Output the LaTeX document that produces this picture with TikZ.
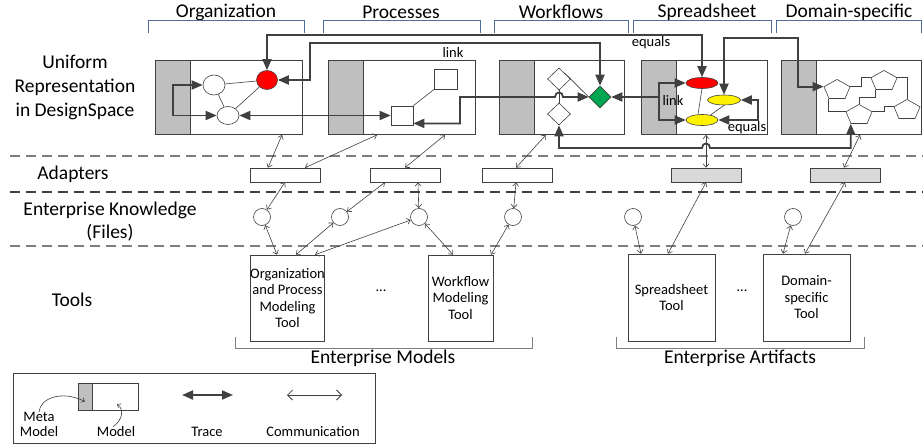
\documentclass[tikz,border=0pt]{standalone}
\usepackage{fontspec}
\setmainfont{Carlito}
\usetikzlibrary{arrows.meta,shapes.geometric,calc}
\definecolor{ln}{HTML}{404040}
\definecolor{metagray}{HTML}{BFBFBF}
\definecolor{adgray}{HTML}{D9D9D9}
\definecolor{hdrblue}{HTML}{4F6D9A}
\definecolor{dashgray}{HTML}{7F7F7F}
\definecolor{grn}{HTML}{00A550}
\newcommand\fbig{\fontsize{19.5}{24}\selectfont}
\newcommand\fsm{\fontsize{14.5}{16.5}\selectfont}
\begin{document}
\begin{tikzpicture}[x=1pt,y=-1pt,
  tr/.style={draw=ln, line width=1.8pt},
  trb/.style={tr, {Triangle[length=11pt,width=9pt]}-{Triangle[length=11pt,width=9pt]}},
  trs/.style={tr, {Triangle[length=11pt,width=9pt]}-},
  comm/.style={draw=ln, line width=0.6pt, {Straight Barb[length=3.5pt,width=6pt]}-{Straight Barb[length=3.5pt,width=6pt]}},
  thinl/.style={draw=ln, line width=0.6pt},
  hdr/.style={font=\fbig, inner sep=0},
  rowlab/.style={font=\fbig, align=center, inner sep=0},
  lbl/.style={font=\fsm, inner sep=0},
  hbr/.style={draw=hdrblue, line width=0.7pt},
  gbr/.style={draw=dashgray, line width=0.7pt},
  dashg/.style={draw=dashgray, line width=1.4pt, dash pattern=on 10pt off 6pt},
  dashk/.style={draw=ln, line width=1.2pt, dash pattern=on 10pt off 6pt},
  box/.style={draw=ln, line width=0.8pt, fill=white, inner sep=0, minimum height=74.5pt},
  meta/.style={draw=ln, line width=0.8pt, fill=metagray, inner sep=0, minimum width=35.5pt, minimum height=74.5pt, anchor=west},
  ell/.style={ellipse, draw=ln, line width=0.6pt, fill=white, inner sep=0},
  sq/.style={rectangle, draw=ln, line width=0.6pt, fill=white, inner sep=0},
  dia/.style={diamond, draw=ln, line width=0.6pt, fill=white, inner sep=0, minimum width=23pt, minimum height=22pt},
  pent/.style={regular polygon, regular polygon sides=5, draw=ln, line width=0.6pt, fill=white, inner sep=0, minimum size=27.4pt, yscale=0.77, transform shape},
  adp/.style={draw=ln, line width=0.6pt, fill=white, minimum width=70pt, minimum height=14pt, inner sep=0},
  kn/.style={circle, draw=ln, line width=0.6pt, fill=white, minimum size=17pt, inner sep=0},
  tool/.style={draw=ln, line width=0.6pt, fill=white, align=center, font=\fsm, inner sep=0}
]
\useasboundingbox (0,0) rectangle (923,444);

% headers
\node[hdr] (hOrg) at (226,12) {Organization};
\node[hdr] (hPro) at (401,12) {Processes};
\node[hdr] (hWf) at (561,12) {Workflows};
\node[hdr] (hSp) at (707,12) {Spreadsheet};
\node[hdr] (hDom) at (849,12) {Domain-specific};
\draw[hbr] (148,33) |- (304,20) -- (304,33);
\draw[hbr] (323,33) |- (480,20) -- (480,33);
\draw[hbr] (494,33) |- (628,20) -- (628,33);
\draw[hbr] (633,33) |- (771,20) -- (771,33);
\draw[hbr] (776,33) |- (921,20) -- (921,33);

% row labels
\node[rowlab] (lUni) at (75,87) {Uniform\\Representation\\in DesignSpace};
\node[rowlab] (lAd) at (73,174) {Adapters};
\node[rowlab, font=\fontsize{19.5}{23}\selectfont] (lKn) at (110,222) {Enterprise Knowledge\\(Files)};
\node[rowlab] (lTo) at (72,300) {Tools};

% separators
\draw[dashg] (10,156) -- (923,156);
\draw[dashk] (10,192) -- (923,192);
\draw[dashg] (10,246) -- (923,246);

% top boxes
\node[box, minimum width=147pt] (b1) at (228.5,97.25) {};
\node[meta] (m1) at (b1.west) {};
\node[box, minimum width=147pt] (b2) at (401.5,97.25) {};
\node[meta] (m2) at (b2.west) {};
\node[box, minimum width=125pt] (b3) at (561.5,97.25) {};
\node[meta] (m3) at (b3.west) {};
\node[box, minimum width=126pt] (b4) at (704,97.25) {};
\node[meta] (m4) at (b4.west) {};
\node[box, minimum width=140pt] (b5) at (851,97.25) {};
\node[meta] (m5) at (b5.west) {};

% organization
\node[ell, minimum width=22pt, minimum height=20pt] (oE1) at (214,85) {};
\node[ell, minimum width=22pt, minimum height=18pt] (oE2) at (228,115.5) {};
\node[ell, fill=red, minimum width=21pt, minimum height=19pt] (oR) at (267,80) {};
\draw[thinl] (oE1) -- (oR);
\draw[thinl] (oE1) -- (oE2);
\draw[thinl] (oR) -- (oE2);

% processes
\node[sq, minimum width=23pt, minimum height=20pt] (pS1) at (446,79) {};
\node[sq, minimum width=22pt, minimum height=19pt] (pS2) at (402,115.5) {};
\draw[thinl] (pS2.north east) -- (pS1.south west);

% workflows
\node[dia] (wD1) at (559,79) {};
\node[dia] (wD2) at (559,114) {};
\node[dia, fill=grn, minimum width=22pt] (wG) at (600,97) {};
\draw[thinl] (wD1.south) -- (wD2.north);
\draw[thinl] (wD1.north east) -- (wG.west);

% spreadsheet
\node[ell, fill=red, minimum width=32pt, minimum height=11pt] (sR) at (702,83) {};
\node[ell, fill=yellow, minimum width=33pt, minimum height=10pt] (sY1) at (724,100) {};
\node[ell, fill=yellow, minimum width=32pt, minimum height=11pt] (sY2) at (702,120) {};
\draw[thinl] (sR.south) -- ([xshift=-4pt]sY2.north);
\draw[thinl] (sY1.south) -- (sY2.30);

% domain-specific
\node[pent] (dP1) at (837,90) {};
\node[pent] (dP2) at (884,81) {};
\node[pent] (dP3) at (859,115) {};
\node[pent] (dP4) at (907,110) {};
\draw[thinl] (dP1.corner 5) -- ++(11,0) |- (dP2.corner 2);
\draw[thinl] (dP1.corner 3) |- (dP3.corner 2);
\draw[thinl] (dP2.corner 3) -- ++(0,8) -| (dP3.corner 1);
\draw[thinl] (dP2.corner 5) -| (dP4.corner 1);
\draw[thinl] (dP3.corner 5) -- ++(12,0) |- (dP4.corner 2);

% trace links
\coordinate (eqC) at (480,35);
\coordinate (lkC) at (310,43);
\coordinate (pkC) at (460,97);
\coordinate (hA1) at (555,97);
\coordinate (hA2) at (563,97);
\coordinate (lkS) at (659,97);
\coordinate (yC) at (760,38);
\coordinate (yC2) at (798,60);
\coordinate (eqL) at (758,110);
\coordinate (olC) at (173,100);
\coordinate (hp1) at (702,148);
\coordinate (hp2) at (710,148);
\draw[trb] (oR.north) |- (eqC) -| (sR.north);
\draw[trb] (oR.east) -| (lkC) -| (wG.north);
\draw[trb] (oE1.west) -| (olC) |- (oE2.west);
\draw[trb] (oE2.east) -- (pS2.west);
\draw[trb] (pS2.-35) -| (pkC) -- (hA1) .. controls +(0,-6) and +(0,-6) .. (hA2) -- (wG.west);
\draw[trs] (wG.east) -- (lkS);
\draw[trb] (sR.west) -| (lkS) |- (sY2.west);
\draw[trb] (sY1.east) -| (eqL) |- (sY2.east);
\draw[trb] (sY1.north) |- (yC) -| (yC2) |- (dP1.corner 2);
\draw[trb] (wD2.south) |- (hp1) .. controls +(0,-6) and +(0,-6) .. (hp2) -| (dP3.corner 3);
\node[lbl] (tEq1) at (651,43) {equals};
\node[lbl] (tLk1) at (453,52) {link};
\node[lbl] (tLk2) at (673,100) {link};
\node[lbl] (tEq2) at (747,128) {equals};

% adapters
\node[adp] (a1) at (285.5,175) {};
\node[adp] (a2) at (405,175) {};
\node[adp] (a3) at (517,175) {};
\node[adp, fill=adgray] (a4) at (706,175) {};
\node[adp, fill=adgray] (a5) at (845,175) {};

% knowledge
\node[kn] (k1) at (262,217) {};
\node[kn] (k2) at (340,217) {};
\node[kn] (k3) at (419,217) {};
\node[kn] (k4) at (513,217) {};
\node[kn] (k5) at (633,217) {};
\node[kn] (k6) at (793,217) {};

% tools
\node[tool, minimum width=67pt, minimum height=86pt] (t1) at (287.5,298) {Organization\\and Process\\Modeling\\Tool};
\node[tool, minimum width=65pt, minimum height=86pt] (t2) at (460.5,298) {Workflow\\Modeling\\Tool};
\node[tool, minimum width=87pt, minimum height=87pt] (t3) at (671.5,297.5) {Spreadsheet\\Tool};
\node[tool, minimum width=87pt, minimum height=87pt] (t4) at (806.5,297.5) {Domain-\\specific\\Tool};
\node[lbl] (dots1) at (381,291) {...};
\node[lbl] (dots2) at (742,291) {...};

% communication: boxes - adapters
\draw[comm] ($(b1.south)+(53.5,0)$) -- ($(a1.north)+(-17.5,0)$);
\draw[comm] ($(b2.south)+(-24.5,0)$) -- ($(a1.north)+(19.5,0)$);
\draw[comm] ($(b2.south)+(43.5,0)$) -- (a2.north);
\draw[comm] ($(b3.south)+(-15.5,0)$) -- ($(a3.north)+(-1,0)$);
\draw[comm] (a4.north |- b4.south) -- (a4.north);
\draw[comm] ($(b5.south)+(9,0)$) -- ($(a5.north)+(-1,0)$);
% adapters - knowledge / tools
\draw[comm] ($(a1.south)+(-0.5,0)$) -- (k1);
\draw[comm] ($(a2.south)+(-20,0)$) -- (k2);
\draw[comm] ($(a2.south)+(13,0)$) -- (k3);
\draw[comm] ($(a3.south)+(-1,0)$) -- (k4);
\draw[comm] (a4.south) -- ($(t3.north)+(-3.5,0)$);
\draw[comm] (a5.south) -- ($(t4.north)+(-1.5,0)$);
% knowledge - tools
\draw[comm] (k1) -- ($(t1.north)+(-10.5,0)$);
\draw[comm] (k2) -- ($(t1.north)+(8.5,0)$);
\draw[comm] (k3) -- ($(t1.north)+(27.5,0)$);
\draw[comm] (k3) -- ($(t2.north)+(-7.5,0)$);
\draw[comm] (k4) -- ($(t2.north)+(30.5,0)$);
\draw[comm] (k5) -- ($(t3.north)+(-30.5,0)$);
\draw[comm] (k6) -- ($(t4.north)+(-23.5,0)$);

% bottom brackets
\draw[gbr] (235,337) |- (532,348) -- (532,337);
\draw[gbr] (616,337) |- (864,348) -- (864,337);
\node[hdr] (lEM) at (383,358) {Enterprise Models};
\node[hdr] (lEA) at (740,358) {Enterprise Artifacts};

% legend
\node[draw=ln, line width=0.8pt, minimum width=362pt, minimum height=70pt, inner sep=0, anchor=north west] (lg) at (13,373) {};
\node[draw=ln, line width=0.8pt, fill=white, minimum width=60pt, minimum height=27pt, inner sep=0] (lgBox) at (108,396.5) {};
\node[draw=ln, line width=0.8pt, fill=metagray, minimum width=14pt, minimum height=27pt, inner sep=0, anchor=west] (lgMeta) at (lgBox.west) {};
\node[lbl, align=center, font=\fontsize{14.5}{15}\selectfont] (lgMetaT) at (39,424.5) {Meta\\Model};
\node[lbl] (lgModelT) at (116,432) {Model};
\draw[thinl, -{Straight Barb[length=3pt,width=5pt]}] (lgMetaT.north) .. controls (40,398) and (62,390) .. ([yshift=-5pt]lgMeta.center);
\draw[thinl, -{Straight Barb[length=3pt,width=5pt]}] ($(lgModelT.north)+(-3,0)$) .. controls (123,420) and (124,409) .. (117,404);
\coordinate (lgT1) at (182,395);
\coordinate (lgT2) at (233,395);
\draw[trb] (lgT1) -- (lgT2);
\node[lbl] (lgTr) at (207,432) {Trace};
\coordinate (lgC1) at (287,395);
\coordinate (lgC2) at (342,395);
\draw[draw=ln, line width=0.8pt, {Straight Barb[length=5pt,width=10pt]}-{Straight Barb[length=5pt,width=10pt]}] (lgC1) -- (lgC2);
\node[lbl] (lgCo) at (313,432) {Communication};
\end{tikzpicture}
\end{document}
